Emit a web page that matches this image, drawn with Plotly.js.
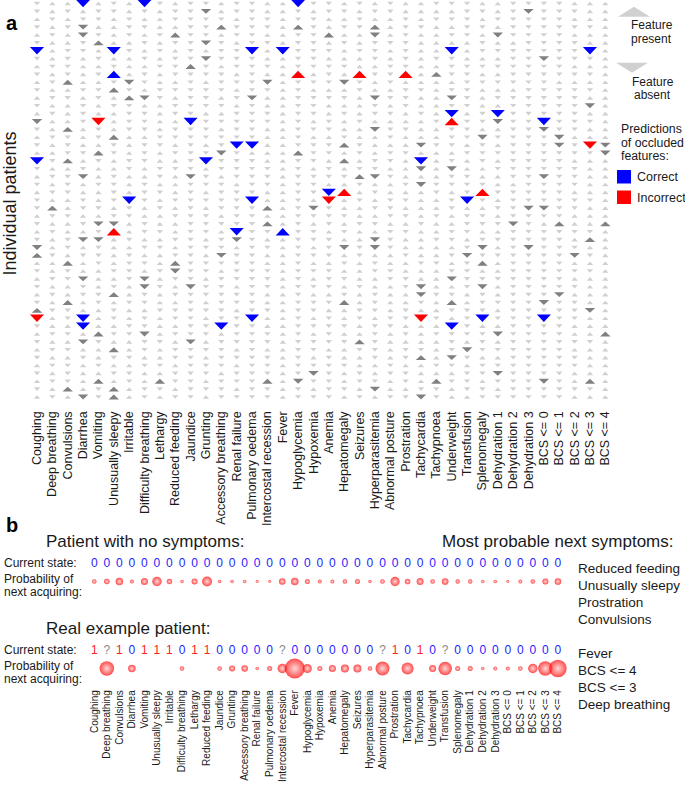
<!DOCTYPE html>
<html><head><meta charset="utf-8">
<script src="https://cdn.plot.ly/plotly-3.0.1.min.js"></script>
<style>html,body{margin:0;padding:0;background:#fff}#chart{width:685px;height:785px}</style>
</head><body><div id="chart"></div>
<script>
// ---------------- DATA ----------------
const features = ['Coughing','Deep breathing','Convulsions','Diarrhea','Vomiting','Unusually sleepy','Irritable',
 'Difficulty breathing','Lethargy','Reduced feeding','Jaundice','Grunting','Accessory breathing','Renal failure',
 'Pulmonary oedema','Intercostal recession','Fever','Hypoglycemia','Hypoxemia','Anemia','Hepatomegaly','Seizures',
 'Hyperparasitemia','Abnormal posture','Prostration','Tachycardia','Tachypnoea','Underweight','Transfusion',
 'Splenomegaly','Dehydration 1','Dehydration 2','Dehydration 3','BCS <= 0','BCS <= 1','BCS <= 2','BCS <= 3','BCS <= 4'];

// Panel a: one string per patient (row), one char per feature (col), read/estimated from the figure.
// ^ present, v absent, A/V highlighted present/absent,
// b/B correct prediction (present/absent), r/R incorrect prediction (present/absent)
const patientRows = [
 "v^^B^v^Bv^ vv^vv^^Bvv ^v^v^^vvv^ ^vvvv^^^",
 "v^v^vv^v^v vV^vv^^v^v v^vv^^^^vv ^vVvvv^^",
 "^v^vv^v^^v vvv^vv^vv^ ^v^^v^vvv^ vvvvv^^^",
 "v^vV^^vv^^ vvAvvv^Av^ vvA^vv^^vv ^vvvvvv^",
 "^v^Vv^v^vA vv^vv^^vvA ^^V^v^^vv^ Vvvvv^^^",
 "v^^vA^^v^v vVv^vv^vv^ v^vvv^^^^v ^^vvvv^^",
 "B^vv^Bv^v^ v^vvB^Bvvv ^vv^v^^B^v vvvvvvB^",
 "v^v^v^^v^v vVvvv^^vv^ ^^v^v^vv^^ ^vvVvvv^",
 "^vv^^v^^vv Av^vvv^vvv v^^vv^^vvv vvvvv^^^",
 "v^v^vb^v^v vvv^v^^r^v ^rvvr^Avv^ ^vvvvvv^",
 "^vA^^vVv^^ v^vvvV^vvv Vv^v^^^^vv vvvv^^^^",
 "v^^vvAv^vv vvv^vv^v^^ ^v^^vv^vv^ ^^vvvvv^",
 "^vv^v^AVv^ vv^vV^^vvv v^Vvv^^Vv^ vvvvvv^^",
 "v^^v^vv^^v vvv^v^^vv^ ^^v^v^^vv^ ^vvvvvV^",
 "^v^v^^vv^v v^^vvv^vv^ v^vv^v^B^v Bvvvvv^^",
 "V^^vR^vv^^ Bvvvvv^v^v ^v^^^^vrvv VvvBvvv^",
 "v^A^v^vv^v vv^vv^^vvv ^^Vvv^^vv^ ^vvVvv^^",
 "^vv^vA^^vv vvvvv^^v^^ v^^v^^^vvV vvvvV^^^",
 "v^v^^v^vv^ v^vBB^^vvv Av^^^Vvv^v ^vvvVvRV",
 "^^vvAv^v^v vvVv^^^Avv ^v^vv^^^vv vvvvvvvV",
 "BvA^v^vv^^ vBvvv^^vv^ A^vv^B^v^v ^vvvv^^^",
 "v^^v^^v^vv v^vvvv^v^v ^vv^^V^V^^ vvvvvv^^",
 "^vvV^v^^v^ Vv^vvv^vvv vAVv^^^vv^ ^vvVvv^^",
 "v^v^vv^v^^ vvv^vv^vv^ ^v^^vVvvvv ^^vvvv^^",
 "^vv^^v^vv^ v^vvv^^vvB r^v^^^v^vr vvvvv^^^",
 "v^^v^vBv^v vvvvB^^v^R ^v^vv^^vBv ^vvvvvv^",
 "vA^vv^v^v^ v^vvvA^vVv ^^vv^^^v^^ vvVVvv^^",
 "^vv^^vv^^v vv^vv^^vvv v^^vv^v^vv ^vvvv^^^",
 "v^^vVV^v^^ vvvvvA^v^v ^vv^^v^^vv vVv^A^^A",
 "^v^^vr^vv^ vv^Bvvbvv^ v^^vv^^vv^ ^vvvvvv^",
 "v^vVV^v^^v v^vVv^^vvv ^^Vv^^vv^v vvvvv^A^",
 "V^v^v^^vv^ vvv^vv^v^v VvVv^^^^vV ^vVvvv^^",
 "Av^vv^v^^v v^Vvv^^vvv ^v^^v^^vVv vvvvvVv^",
 "^^A^v^vv^A vvvvv^^v^^ v^v^^vv^vA ^vvvv^^^",
 "v^v^^vv^vV vv^vvv^vvv ^^vv^^^vv^ ^vvvvvv^",
 "^vvV^^vV^v v^vvvv^v^v v^^vv^^Vvv vvvvv^^^",
 "v^^v^v^Vv^ Vvv^vv^vvv ^v^^vV^^vV ^vvvvv^^",
 "^v^vvA^v^v vvvvv^^v^^ v^v^^Vvv^v ^vvvV^^^",
 "v^A^v^vv^^ v^vvv^^vvv A^v^^v^A^v vvvVvv^^",
 "Avv^^v^^vv vvv^vv^vv^ ^vv^v^^vvv ^vvvvvV^",
 "R^vB^v^v^v v^vvB^^v^v ^v^vvRv^vB vvvBvv^^",
 "v^^B^^vv^^ vvBvv^^vvv v^vv^^^Bv^ ^vvvv^^^",
 "^vv^AvvV^v vv^vvv^v^v ^^v^v^vvvv Vvvvv^^A",
 "v^^Vv^^vv^ V^vvvv^vvv vAv^^^^v^v ^vvvvvv^",
 "^vv^^A^v^v vvv^v^^vv^ ^vv^vv^vVv vvvvv^^^",
 "v^^v^vv^^v v^vvvv^v^v ^^v^vA^Vv^ ^vvvvv^^",
 "^vv^v^^vv^ vvv^vv^vvv v^^v^^vv^v vvvvvv^^",
 "v^v^^vv^^v vv^vvv^vVv ^v^vv^^^vv Vvvvv^^^",
 "^vv^A^v^Av v^vvvA^Vvv ^vv^v^Avv^ vvvVv^A^",
 "v^A^vA^vv^ vvv^vv^v^v v^V^^vv^vv ^vvvvvv^",
 "^v^VvA^v^v v^vvvv^vvv ^v^vvVv^^v vvvvv^^^"
];

// Panel b
const stateNoSymptoms = ['0','0','0','0','0','0','0','0','0','0','0','0','0','0','0','0','0','0','0',
 '0','0','0','0','0','0','0','0','0','0','0','0','0','0','0','0','0','0','0'];
const probNoSymptoms = [0.026,0.039,0.072,0.020,0.0625,0.115,0.039,0.016,0.046,0.128,0.016,0.016,0.016,0.011,0.011,
 0.054,0.072,0.032,0.020,0.020,0.026,0.032,0.014,0.028,0.110,0.041,0.0625,0.028,0.057,0.024,0.024,0.017,0.017,
 0.011,0.020,0.028,0.046,0.057];
const stateReal = ['1','?','1','0','1','1','1','0','1','1','0','0','0','0','0','?','0','0','0',
 '0','0','0','0','?','1','0','1','0','?','0','0','0','0','0','0','0','0','0'];
const probReal = [null,0.268,null,0.072,null,null,null,0.026,null,null,0.026,0.046,0.054,0.016,0.032,
 0.115,0.51,0.103,0.032,0.0625,0.082,0.082,0.026,0.25,null,0.184,null,0.0625,0.232,0.032,0.032,0.016,0.020,
 0.020,0.026,0.115,0.268,0.39];
const nextNoSymptoms = ['Reduced feeding','Unusually sleepy','Prostration','Convulsions'];
const nextReal = ['Fever','BCS <= 4','BCS <= 3','Deep breathing'];

// ---------------- DRAWING ----------------
const W = 685, H = 785;
const FONT = 'Liberation Sans, Arial, Helvetica, sans-serif';
const TXT = '#1a1a1a';
const px = v => v / W, py = v => 1 - v / H;
const esc = s => s.replace(/</g, '&lt;');
const idx = features.map((_, i) => i);

const LIGHT = '#d0d0d0', DARK = '#808080', BLUE = '#0000ff', RED = '#ff0000';
const styles = {
  '^': {c: LIGHT, up: true,  hw: 0.21, hh: 0.23},
  'v': {c: LIGHT, up: false, hw: 0.21, hh: 0.23},
  'A': {c: DARK,  up: true,  hw: 0.34, hh: 0.31},
  'V': {c: DARK,  up: false, hw: 0.34, hh: 0.31},
  'b': {c: BLUE,  up: true,  hw: 0.46, hh: 0.47},
  'B': {c: BLUE,  up: false, hw: 0.46, hh: 0.47},
  'r': {c: RED,   up: true,  hw: 0.46, hh: 0.47},
  'R': {c: RED,   up: false, hw: 0.46, hh: 0.47}
};
const groups = {};
patientRows.forEach((row, r) => {
  const s = row.replace(/\s/g, '');
  for (let c = 0; c < s.length; c++) {
    const st = styles[s[c]];
    if (!st) continue;
    const key = st.c + '|' + st.hw;
    if (!groups[key]) groups[key] = {st, xs: [], ys: []};
    const g = groups[key];
    if (st.up) { g.xs.push(c - st.hw, c + st.hw, c, null); g.ys.push(r + st.hh, r + st.hh, r - st.hh, null); }
    else       { g.xs.push(c - st.hw, c + st.hw, c, null); g.ys.push(r - st.hh, r - st.hh, r + st.hh, null); }
  }
});
const order = [LIGHT, DARK, BLUE, RED];
const traces = [];
order.forEach(col => {
  Object.values(groups).filter(g => g.st.c === col).forEach(g => {
    traces.push({type: 'scatter', mode: 'lines', x: g.xs, y: g.ys, fill: 'toself', fillcolor: col,
      line: {width: 0, color: col}, connectgaps: false, hoverinfo: 'skip', xaxis: 'x', yaxis: 'y', showlegend: false});
  });
});

const stateColor = {'0': '#2424ff', '1': '#ff2020', '?': '#8a8a8a'};
function stateTrace(states, ya) {
  return {type: 'scatter', mode: 'text', x: idx, y: states.map(() => 'state'), text: states,
    textfont: {family: FONT, size: 12, color: states.map(s => stateColor[s])},
    textposition: 'middle center', cliponaxis: false, hoverinfo: 'skip', xaxis: 'x2', yaxis: ya, showlegend: false};
}
function probTrace(probs, ya) {
  return {type: 'scatter', mode: 'markers', x: idx, y: probs.map(() => 'prob'),
    marker: {size: probs.map(p => p == null ? 0 : 28 * Math.sqrt(p)), color: '#ff0000',
      gradient: {type: 'radial', color: '#ffc4c4'}, line: {width: 0}},
    cliponaxis: false, hoverinfo: 'skip', xaxis: 'x2', yaxis: ya, showlegend: false};
}
traces.push(stateTrace(stateNoSymptoms, 'y2'), probTrace(probNoSymptoms, 'y2'));
traces.push(stateTrace(stateReal, 'y3'), probTrace(probReal, 'y3'));

function ann(text, x, y, size, o = {}) {
  return Object.assign({text, x: px(x), y: py(y), xref: 'paper', yref: 'paper', showarrow: false,
    xanchor: 'center', yanchor: 'middle', font: {family: FONT, size, color: TXT}, borderpad: 0}, o);
}
const L = {xanchor: 'left'};
const annotations = [
  ann('<b>a</b>', 12, 23, 20, {font: {family: FONT, size: 20, color: '#000'}}),
  ann('<b>b</b>', 12.5, 525, 20, {font: {family: FONT, size: 20, color: '#000'}}),
  ann('Individual patients', 9.5, 204, 18, {textangle: -90}),
  ann('Feature', 651.5, 25.5, 12), ann('present', 651.5, 38.7, 12),
  ann('Feature', 652.5, 82.2, 12), ann('absent', 652.5, 95.4, 12),
  ann('Predictions', 620, 129.5, 12.3, L), ann('of occluded', 620, 142.6, 12.3, L), ann('features:', 620, 155.5, 12.3, L),
  ann('Correct', 636, 176.7, 12.5, L), ann('Incorrect', 636, 197.5, 12.5, L),
  ann('Patient with no symptoms:', 45, 541.7, 17, L),
  ann('Most probable next symptoms:', 441, 541.7, 17, L),
  ann('Real example patient:', 45, 628.3, 17, L),
  ann('Current state:', 3, 562.7, 12, L), ann('Probability of', 3, 579, 12, L), ann('next acquiring:', 3, 592.3, 12, L),
  ann('Current state:', 3, 650, 12, L), ann('Probability of', 3, 666, 12, L), ann('next acquiring:', 3, 679.3, 12, L)
];
const nextY1 = [568.3, 585.7, 602.3, 619.3], nextY2 = [653, 670.7, 687.7, 704.3];
nextNoSymptoms.forEach((t, i) => annotations.push(ann(esc(t), 577, nextY1[i], 13.5, L)));
nextReal.forEach((t, i) => annotations.push(ann(esc(t), 577, nextY2[i], 13.5, L)));

function tri(cx, cy, hw, hh, up) {
  const yb = up ? cy + hh : cy - hh, ya = up ? cy - hh : cy + hh;
  return `M${px(cx - hw)},${py(yb)} L${px(cx + hw)},${py(yb)} L${px(cx)},${py(ya)} Z`;
}
const shapes = [
  {type: 'path', xref: 'paper', yref: 'paper', path: tri(634, 11.7, 16, 5, true), fillcolor: LIGHT, line: {width: 0}},
  {type: 'path', xref: 'paper', yref: 'paper', path: tri(632, 67.7, 16, 5, false), fillcolor: LIGHT, line: {width: 0}},
  {type: 'rect', xref: 'paper', yref: 'paper', x0: px(617), x1: px(631), y0: py(170), y1: py(183.5), fillcolor: BLUE, line: {width: 0}},
  {type: 'rect', xref: 'paper', yref: 'paper', x0: px(617), x1: px(631), y0: py(190.5), y1: py(204), fillcolor: RED, line: {width: 0}}
];

const layout = {
  width: W, height: H, margin: {l: 0, r: 0, t: 0, b: 0}, paper_bgcolor: '#fff', plot_bgcolor: 'rgba(0,0,0,0)',
  showlegend: false, font: {family: FONT},
  xaxis: {domain: [px(29.32), px(613.0)], range: [-0.5, 37.5], tickmode: 'array', tickvals: idx,
    ticktext: features.map(esc), tickangle: -90, tickfont: {family: FONT, size: 12.5, color: TXT},
    ticklabelstandoff: 7, showgrid: false, zeroline: false,
    showline: false, ticks: '', anchor: 'y', fixedrange: true},
  yaxis: {domain: [py(400.9), 1], range: [50.5, -0.445], visible: false, anchor: 'x', fixedrange: true},
  xaxis2: {domain: [px(88.03), px(564.2)], range: [-0.5, 37.5], tickmode: 'array', tickvals: idx,
    ticktext: features.map(esc), tickangle: -90, tickfont: {family: FONT, size: 10, color: TXT},
    ticklabelstandoff: 10, showgrid: false, zeroline: false, showline: false, ticks: '', anchor: 'y3', fixedrange: true},
  yaxis2: {domain: [py(590.25), py(555.25)], type: 'category', categoryarray: ['prob', 'state'],
    range: [-0.5, 1.5], visible: false, anchor: 'x2', fixedrange: true},
  yaxis3: {domain: [py(677.25), py(642.25)], type: 'category', categoryarray: ['prob', 'state'],
    range: [-0.5, 1.5], visible: false, anchor: 'x2', fixedrange: true},
  annotations, shapes
};
Plotly.newPlot('chart', traces, layout, {staticPlot: true, displayModeBar: false});
</script></body></html>
